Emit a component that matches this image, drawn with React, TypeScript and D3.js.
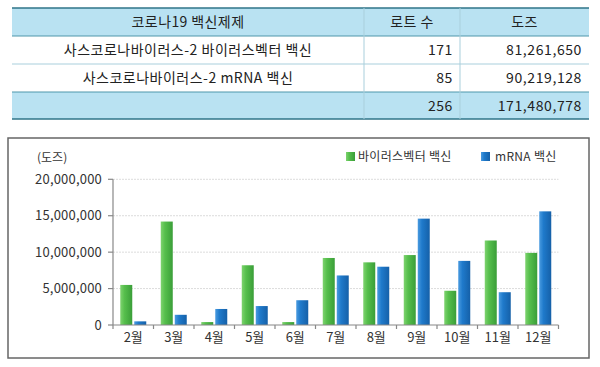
import React from "react";
import * as d3 from "d3";

const tableHeader = ["코로나19 백신제제", "로트 수", "도즈"];
const tableNames = ["사스코로나바이러스-2 바이러스벡터 백신", "사스코로나바이러스-2 mRNA 백신", ""];
const tableLots = ["171", "85", "256"];
const tableDoses = ["81,261,650", "90,219,128", "171,480,778"];

const months = ["2월", "3월", "4월", "5월", "6월", "7월", "8월", "9월", "10월", "11월", "12월"];
const vectorDoses = [5500000, 14200000, 400000, 8200000, 400000, 9200000, 8600000, 9600000, 4700000, 11600000, 9900000];
const mrnaDoses = [500000, 1400000, 2200000, 2600000, 3400000, 6800000, 8000000, 14600000, 8800000, 4500000, 15600000];
const yTicks = [0, 5000000, 10000000, 15000000, 20000000];
const seriesNames = ["바이러스벡터 백신", "mRNA 백신"];

const FONT = "'Noto Sans CJK KR', 'Noto Sans', sans-serif";

export default function App() {
  const colX = [12, 364, 460, 589];
  const rowY = [8, 36, 64, 92, 119];

  const x = d3.scaleBand<string>().domain(months).range([113, 558.5]);
  const y = d3.scaleLinear().domain([0, 20000000]).range([325, 179.3]);
  const barW = 12;
  const fmt = d3.format(",");

  return (
    <svg width={600} height={367} style={{ position: "absolute", left: 0, top: 0, background: "#fff" }} fontFamily={FONT}>
      <defs>
        <linearGradient id="gG" x1="0" x2="1" y1="0" y2="0">
          <stop offset="0" stopColor="#7ed36f" />
          <stop offset="0.35" stopColor="#56bf4c" />
          <stop offset="1" stopColor="#3a9e38" />
        </linearGradient>
        <linearGradient id="gB" x1="0" x2="1" y1="0" y2="0">
          <stop offset="0" stopColor="#4a9be0" />
          <stop offset="0.35" stopColor="#1f7acb" />
          <stop offset="1" stopColor="#1560a8" />
        </linearGradient>
      </defs>
      <rect width={600} height={367} fill="#fff" />
      {/* table */}
      <rect x={colX[0]} y={rowY[0]} width={colX[3] - colX[0]} height={rowY[1] - rowY[0]} fill="#b9e2f2" />
      <rect x={colX[0]} y={rowY[3]} width={colX[3] - colX[0]} height={rowY[4] - rowY[3]} fill="#b9e2f2" />
      {[1, 2, 3].map((i) => (
        <line key={i} x1={colX[0]} x2={colX[3]} y1={rowY[i]} y2={rowY[i]} stroke={i === 1 || i === 3 ? "#4f97ab" : "#a9cfdc"} strokeWidth={1} />
      ))}
      <line x1={colX[0]} x2={colX[3]} y1={rowY[0]} y2={rowY[0]} stroke="#2f7488" strokeWidth={1.6} />
      <line x1={colX[0]} x2={colX[3]} y1={rowY[4]} y2={rowY[4]} stroke="#2f7488" strokeWidth={1.6} />
      {[1, 2].map((i) => (
        <line key={i} x1={colX[i]} x2={colX[i]} y1={rowY[0]} y2={rowY[4]} stroke="#a9cfdc" strokeWidth={1} />
      ))}
      {tableHeader.map((h, i) => (
        <text key={h} x={(colX[i] + colX[i + 1]) / 2} y={(rowY[0] + rowY[1]) / 2 + 5} textAnchor="middle" fontSize={14} letterSpacing={0.4} fill="#222">{h}</text>
      ))}
      {tableNames.map((n, r) => (
        <g key={r}>
          <text x={(colX[0] + colX[1]) / 2} y={(rowY[r + 1] + rowY[r + 2]) / 2 + 5} textAnchor="middle" fontSize={14} letterSpacing={0.5} fill="#222">{n}</text>
          <text x={colX[2] - 7} y={(rowY[r + 1] + rowY[r + 2]) / 2 + 5} textAnchor="end" fontSize={14} letterSpacing={0.6} fill="#222">{tableLots[r]}</text>
          <text x={colX[3] - 7} y={(rowY[r + 1] + rowY[r + 2]) / 2 + 5} textAnchor="end" fontSize={14} letterSpacing={0.6} fill="#222">{tableDoses[r]}</text>
        </g>
      ))}

      {/* chart box */}
      <rect x={8} y={138} width={581} height={220} fill="#fff" stroke="#666" strokeWidth={1.5} />
      <text x={37} y={162} fontSize={12} fill="#333">(도즈)</text>

      {/* grid */}
      {yTicks.filter((t) => t > 0).map((t) => (
        <line key={t} x1={113} x2={558.5} y1={y(t)} y2={y(t)} stroke="#dcdcdc" strokeWidth={1} strokeDasharray="2,1" />
      ))}
      {/* y axis */}
      <line x1={113} x2={113} y1={y(20000000)} y2={y(0)} stroke="#888" strokeWidth={1.2} />
      {yTicks.map((t) => (
        <g key={t}>
          <line x1={108} x2={113} y1={y(t)} y2={y(t)} stroke="#888" strokeWidth={1.2} />
          <text x={102} y={y(t) + 4.5} textAnchor="end" fontSize={13} letterSpacing={0.2} fill="#333">{fmt(t)}</text>
        </g>
      ))}

      {/* bars */}
      {months.map((m, i) => {
        const cx = (x(m) as number) + x.bandwidth() / 2;
        return (
          <g key={m}>
            <rect x={cx - barW - 1} y={y(vectorDoses[i])} width={barW} height={y(0) - y(vectorDoses[i])} fill="url(#gG)" />
            <rect x={cx + 1} y={y(mrnaDoses[i])} width={barW} height={y(0) - y(mrnaDoses[i])} fill="url(#gB)" />
            <text x={cx} y={342} textAnchor="middle" fontSize={13} fill="#333">{m}</text>
          </g>
        );
      })}

      {/* x axis */}
      <line x1={113} x2={558.5} y1={y(0)} y2={y(0)} stroke="#888" strokeWidth={1.2} />
      {months.map((m) => (
        <line key={m} x1={x(m) as number} x2={x(m) as number} y1={y(0)} y2={y(0) + 4} stroke="#888" strokeWidth={1.2} />
      ))}
      <line x1={558.5} x2={558.5} y1={y(0)} y2={y(0) + 4} stroke="#888" strokeWidth={1.2} />

      {/* legend */}
      <rect x={346} y={152} width={9} height={9} fill="url(#gG)" />
      <text x={358} y={161} fontSize={12} letterSpacing={0.3} fill="#333">{seriesNames[0]}</text>
      <rect x={481} y={152} width={9} height={9} fill="url(#gB)" />
      <text x={495} y={161} fontSize={12} letterSpacing={0.3} fill="#333">{seriesNames[1]}</text>
    </svg>
  );
}
